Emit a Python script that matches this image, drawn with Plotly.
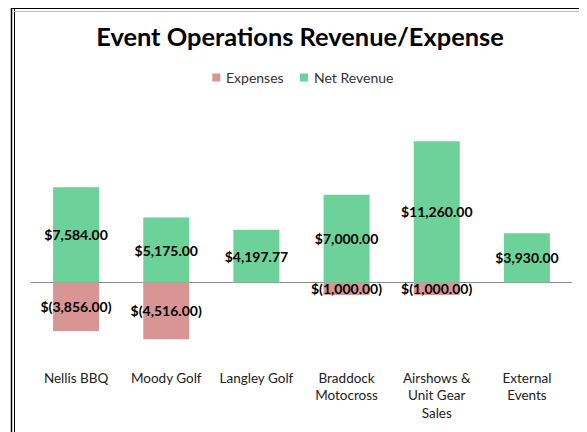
import plotly.graph_objects as go

categories = ["Nellis BBQ", "Moody Golf", "Langley Golf", "Braddock<br>Motocross",
              "Airshows &<br>Unit Gear<br>Sales", "External<br>Events"]
expenses = [-3856.00, -4516.00, None, -1000.00, -1000.00, None]
net_revenue = [7584.00, 5175.00, 4197.77, 7000.00, 11260.00, 3930.00]
series_names = ["Expenses", "Net Revenue"]

exp_color = "#D99594"
rev_color = "#6CD299"

W, H = 579, 424
OFF = 8  # page body margin offset


def fx(px):
    return (px - OFF) / W


def fy(py):
    return 1 - (py - OFF) / H


def fmt(v):
    if v is None:
        return ""
    if v < 0:
        return "$({:,.2f})".format(abs(v))
    return "${:,.2f}".format(v)


label_font = dict(family="Lato, Carlito, sans-serif", size=14, color="black", weight="bold")

fig = go.Figure()
fig.add_trace(go.Bar(x=categories, y=expenses, marker_color=exp_color, marker_line_width=0,
                     text=[fmt(v) for v in expenses], textposition="inside",
                     insidetextanchor="middle", textangle=0, constraintext="none",
                     textfont=label_font, name=series_names[0]))
fig.add_trace(go.Bar(x=categories, y=net_revenue, marker_color=rev_color, marker_line_width=0,
                     text=[fmt(v) for v in net_revenue], textposition="inside",
                     insidetextanchor="middle", textangle=0, constraintext="none",
                     textfont=label_font, name=series_names[1]))

shapes = []
# left double border
for px, w in ((11.5, 1.5), (14.5, 1)):
    shapes.append(dict(type="line", xref="paper", yref="paper", x0=fx(px), x1=fx(px),
                       y0=0, y1=fy(px - 7), line=dict(color="black", width=w)))
# top border (inner line visible)
shapes.append(dict(type="line", xref="paper", yref="paper", x0=fx(11), x1=1,
                   y0=fy(8.5), y1=fy(8.5), line=dict(color="black", width=1.2)))
shapes.append(dict(type="line", xref="paper", yref="paper", x0=fx(14), x1=1,
                   y0=fy(11.5), y1=fy(11.5), line=dict(color="#bbbbbb", width=1)))

# legend (compact, Excel-like)
annotations = []
for name, col, sx in zip(series_names, [exp_color, rev_color], [212.3, 300]):
    shapes.append(dict(type="rect", xref="paper", yref="paper", x0=fx(sx), x1=fx(sx + 8),
                       y0=fy(81.5), y1=fy(73.5), fillcolor=col, line=dict(width=0)))
    annotations.append(dict(text=name, xref="paper", yref="paper", x=fx(sx + 12), y=fy(77.5),
                            xanchor="left", yanchor="middle", showarrow=False,
                            font=dict(size=14, color="#333")))

fig.update_layout(
    width=W, height=H,
    margin=dict(l=0, r=0, t=0, b=0),
    paper_bgcolor="white", plot_bgcolor="white",
    barmode="relative", bargap=0.49,
    showlegend=False,
    font=dict(family="Lato, Carlito, sans-serif", color="#222"),
    title=dict(text="<b>Event Operations Revenue/Expense</b>", x=fx(300), xanchor="center",
               y=fy(37), yanchor="middle",
               font=dict(family="Lato, Carlito, sans-serif", size=25.4, color="black")),
    uniformtext=dict(minsize=14, mode="show"),
    shapes=shapes,
    annotations=annotations,
    xaxis=dict(domain=[fx(31), fx(572)], showgrid=False, showline=False, ticks="",
               tickfont=dict(size=13.5, color="#222"), fixedrange=True),
    yaxis=dict(domain=[fy(368), fy(100)], range=[-6813, 14542], showgrid=False,
               showticklabels=False, zeroline=True, zerolinecolor="#8c8c8c", zerolinewidth=1,
               showline=False, ticks=""),
)

fig.write_html("out.html")
